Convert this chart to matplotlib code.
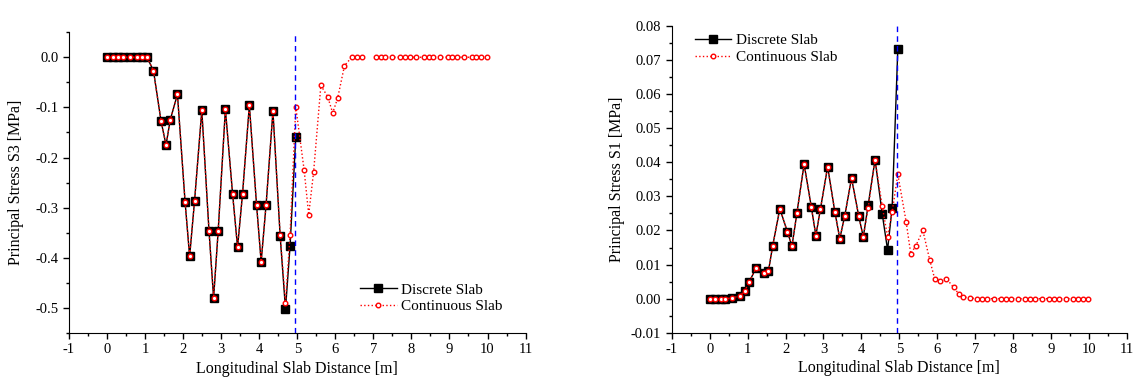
import matplotlib
matplotlib.use("Agg")
import matplotlib.pyplot as plt
from matplotlib.ticker import MultipleLocator, FormatStrFormatter
import numpy as np

plt.rcParams['font.family'] = ['Liberation Serif', 'DejaVu Serif']
plt.rcParams['axes.unicode_minus'] = False

# node positions along the slab (m)
x_disc = [0, 0.15, 0.29, 0.41, 0.60, 0.79, 0.92, 1.05, 1.22, 1.42, 1.55, 1.66, 1.85,
          2.05, 2.17, 2.30, 2.49, 2.68, 2.80, 2.92, 3.11, 3.30, 3.43, 3.56, 3.74,
          3.93, 4.05, 4.18, 4.36, 4.55, 4.69, 4.81, 4.96]
x_tail = [5.18, 5.30, 5.43, 5.62, 5.80, 5.93, 6.06, 6.24, 6.43, 6.56, 6.69, 6.87,
          7.06, 7.19, 7.31, 7.50, 7.69, 7.82, 7.95, 8.13, 8.32, 8.45, 8.57, 8.75,
          8.95, 9.07, 9.20, 9.38, 9.58, 9.70, 9.83, 9.98]
x_cont = x_disc + x_tail

# principal stress S3 (MPa)
s3_disc = [0, 0, 0, 0, 0, 0, 0, 0, -0.027, -0.128, -0.175, -0.125, -0.074,
           -0.288, -0.397, -0.286, -0.106, -0.347, -0.480, -0.347, -0.104, -0.273,
           -0.379, -0.273, -0.096, -0.295, -0.408, -0.294, -0.108, -0.357, -0.502,
           -0.377, -0.159]
s3_cont = s3_disc[:29] + [-0.354, -0.490, -0.354, -0.099] + \
    [-0.225, -0.314, -0.228, -0.056, -0.079, -0.111, -0.082, -0.017, 0, 0, 0, np.nan,
     0, 0, 0, 0, 0, 0, 0, 0, 0, 0, 0, 0, 0, 0, 0, 0, 0, 0, 0, 0]

# principal stress S1 (MPa)
s1_disc = [0, 0, 0, 0, 0.0002, 0.0008, 0.0022, 0.0050, 0.0090, 0.0076, 0.0081,
           0.0154, 0.0264, 0.0196, 0.0154, 0.0251, 0.0395, 0.0269, 0.0185, 0.0263,
           0.0387, 0.0255, 0.0176, 0.0242, 0.0354, 0.0242, 0.0181, 0.0276, 0.0408,
           0.0248, 0.0143, 0.0267, 0.0733]
s1_cont = s1_disc[:27] + [0.0267, 0.0408, 0.0271, 0.0181, 0.0254, 0.0365] + \
    [0.0225, 0.0132, 0.0154, 0.0200, 0.0114, 0.0059, 0.0053, 0.0059, 0.0033, 0.0015,
     0.0005, 0.0002, 0, 0, 0, 0, 0, 0, 0, 0, 0, 0, 0, 0, 0, 0, 0, 0, 0, 0, 0, 0]

joint_x = 4.95

fig = plt.figure(figsize=(11.41, 3.83), dpi=100)
ax1 = fig.add_axes([0.0605, 0.1305, 0.4001, 0.7855])
ax2 = fig.add_axes([0.5887, 0.1313, 0.3990, 0.8007])


def draw(ax, y_disc, y_cont):
    ax.plot(x_disc, y_disc, color='black', linewidth=1.0, marker='s', markersize=5.2,
            markerfacecolor='black', markeredgecolor='black', label='Discrete Slab')
    ax.plot(x_cont, y_cont, color='red', linewidth=1.0, linestyle=':', marker='o',
            markersize=3.3, markerfacecolor='white', markeredgecolor='red',
            markeredgewidth=1.0, label='Continuous Slab')
    ax.axvline(joint_x, color='blue', linewidth=1.0, linestyle=(0, (4, 3)))
    ax.spines['top'].set_visible(False)
    ax.spines['right'].set_visible(False)
    ax.set_xlim(-1, 11)
    ax.xaxis.set_major_locator(MultipleLocator(1))
    ax.xaxis.set_minor_locator(MultipleLocator(0.5))
    ax.tick_params(which='major', direction='out', length=4, width=1, labelsize=10.5)
    ax.tick_params(which='minor', direction='out', length=2.5, width=1)
    ax.set_xlabel('Longitudinal Slab Distance [m]', fontsize=11.5, labelpad=3)


draw(ax1, s3_disc, s3_cont)
ax1.set_ylim(-0.55, 0.05)
ax1.yaxis.set_major_locator(MultipleLocator(0.1))
ax1.yaxis.set_minor_locator(MultipleLocator(0.05))
ax1.yaxis.set_major_formatter(FormatStrFormatter('%.1f'))
ax1.set_ylabel('Principal Stress S3 [MPa]', fontsize=11.5, labelpad=8)
ax1.legend(loc='lower right', bbox_to_anchor=(0.98, 0.02), frameon=False, fontsize=11,
           handlelength=2.4, handletextpad=0.3, labelspacing=0.2)

draw(ax2, s1_disc, s1_cont)
ax2.set_ylim(-0.01, 0.08)
ax2.yaxis.set_major_locator(MultipleLocator(0.01))
ax2.yaxis.set_minor_locator(MultipleLocator(0.005))
ax2.yaxis.set_major_formatter(FormatStrFormatter('%.2f'))
ax2.set_ylabel('Principal Stress S1 [MPa]', fontsize=11.5, labelpad=4)
ax2.legend(loc='upper left', bbox_to_anchor=(0.02, 1.02), frameon=False, fontsize=11,
           handlelength=2.4, handletextpad=0.3, labelspacing=0.2)

plt.savefig('out.png', dpi=100)
